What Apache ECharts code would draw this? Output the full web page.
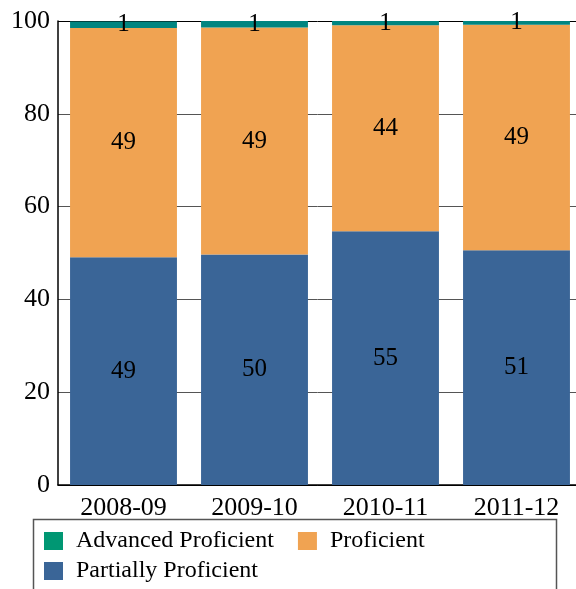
<!DOCTYPE html>
<html>
<head>
<meta charset="utf-8">
<script src="https://cdn.jsdelivr.net/npm/echarts@6/dist/echarts.min.js"></script>
<style>html,body{margin:0;padding:0;background:#fff;}#c{width:576px;height:589px;}</style>
</head>
<body>
<div id="c"></div>
<script>
var categories = ['2008-09', '2009-10', '2010-11', '2011-12'];
var partiallyProficient = [49.1, 49.7, 54.7, 50.6];
var proficient = [49.4, 48.9, 44.4, 48.6];
var advancedProficient = [1.4, 1.4, 0.9, 0.8];
var yTicks = [0, 20, 40, 60, 80, 100];

var FONT = 'Liberation Serif';
var chart = echarts.init(document.getElementById('c'));
function lbl() {
  return {
    show: true, position: 'inside', color: '#000', fontFamily: FONT, fontSize: 25,
    formatter: function (p) { return Math.round(p.value); }
  };
}
chart.setOption({
  animation: false,
  grid: { left: 58, top: 21, width: 524, bottom: 104, containLabel: false, outerBoundsMode: 'none' },
  xAxis: {
    type: 'category', data: categories,
    axisLine: { lineStyle: { color: '#000', width: 1.5 } },
    axisTick: { show: false },
    axisLabel: { color: '#000', fontFamily: FONT, fontSize: 26, margin: 10 }
  },
  yAxis: {
    type: 'value', min: 0, max: 100, interval: 20,
    axisLine: { show: true, lineStyle: { color: '#000', width: 1.5 } },
    axisTick: { show: false },
    axisLabel: { color: '#000', fontFamily: FONT, fontSize: 26, margin: 8,
      formatter: function (v) { return yTicks.indexOf(v) >= 0 ? String(v) : ''; } },
    splitLine: { show: true, lineStyle: { color: ['#000', '#555', '#555', '#555', '#555', '#000'], width: 1 } }
  },
  legend: {
    left: 44, top: 529, width: 505, orient: 'horizontal', padding: 0,
    itemWidth: 19, itemHeight: 18, itemGap: 6,
    textStyle: { color: '#000', fontFamily: FONT, fontSize: 24, padding: [0, 18, 0, 8], lineHeight: 24 },
    icon: 'rect',
    data: [
      { name: 'Advanced Proficient', itemStyle: { color: '#009773' } },
      { name: 'Proficient', itemStyle: { color: '#F0A352' } },
      { name: 'Partially Proficient', itemStyle: { color: '#3A6597' } }
    ]
  },
  graphic: [{
    type: 'rect', left: 31, top: 517, z: -1,
    shape: { width: 523, height: 80 },
    style: { fill: 'none', stroke: '#555', lineWidth: 1.5 }
  }],
  series: [
    { name: 'Partially Proficient', type: 'bar', stack: 't', data: partiallyProficient, barWidth: '81.6%',
      itemStyle: { color: '#3A6597' }, label: lbl() },
    { name: 'Proficient', type: 'bar', stack: 't', data: proficient,
      itemStyle: { color: '#F0A352' }, label: lbl() },
    { name: 'Advanced Proficient', type: 'bar', stack: 't', data: advancedProficient,
      itemStyle: { color: '#008580' }, label: lbl() }
  ]
});
</script>
</body>
</html>
